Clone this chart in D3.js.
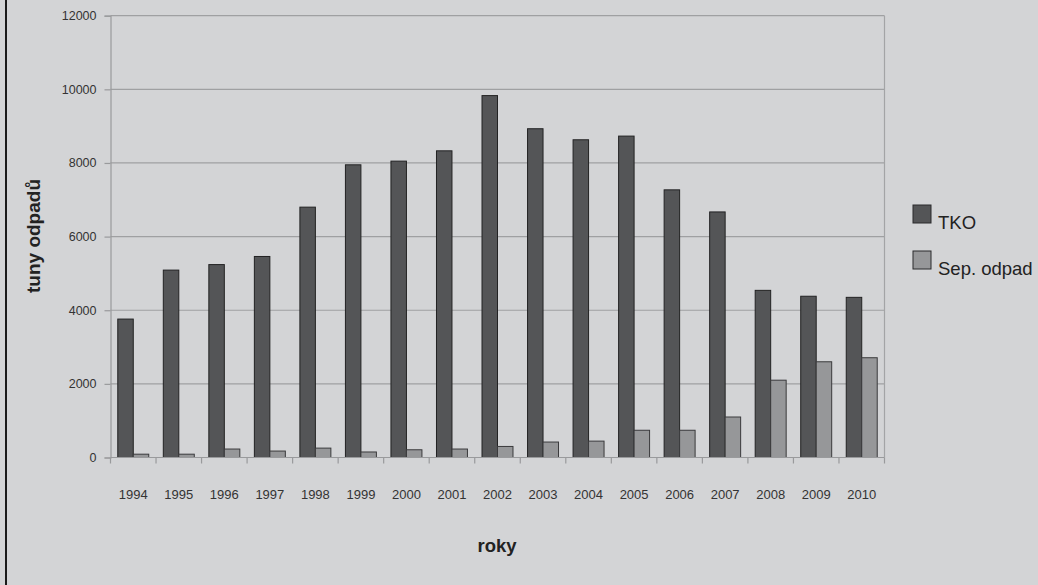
<!DOCTYPE html>
<html>
<head>
<meta charset="utf-8">
<script src="https://cdn.jsdelivr.net/npm/d3@7"></script>
<style>
  html, body { margin: 0; padding: 0; background: #d3d4d6; }
  svg { display: block; font-family: "Liberation Sans", Arial, sans-serif; }
</style>
</head>
<body>
<div class="chart"></div>
<script>
// data
var years = ["1994", "1995", "1996", "1997", "1998", "1999", "2000", "2001", "2002",
             "2003", "2004", "2005", "2006", "2007", "2008", "2009", "2010"];
var seriesNames = ["TKO", "Sep. odpad"];
var tko = [3760, 5090, 5240, 5460, 6800, 7950, 8050, 8330, 9830,
           8930, 8630, 8730, 7270, 6670, 4540, 4380, 4350];
var sepOdpad = [90, 90, 230, 175, 255, 150, 210, 230, 300,
                420, 445, 740, 740, 1100, 2100, 2600, 2710];
var yTicks = [0, 2000, 4000, 6000, 8000, 10000, 12000];

var width = 1038, height = 585;
var plot = {left: 110.5, right: 884.5, top: 15.7, bottom: 457.5};
var colors = {"TKO": "#545557", "Sep. odpad": "#969799"};
var strokes = {"TKO": "#222223", "Sep. odpad": "#3a3a3c"};

var svg = d3.select(".chart").append("svg").attr("width", width).attr("height", height);

svg.append("rect").attr("x", 0).attr("y", 0).attr("width", width).attr("height", height).attr("fill", "#d3d4d6");
// left edge frame line
svg.append("line").attr("x1", 6).attr("y1", 0).attr("x2", 6).attr("y2", height)
   .attr("stroke", "#1a1a1a").attr("stroke-width", 2);

var x0 = d3.scaleBand().domain(years).range([plot.left, plot.right]).padding(0);
var x1 = d3.scaleBand().domain(seriesNames).range([0, x0.bandwidth()]).paddingInner(0).paddingOuter(0.47);
var y = d3.scaleLinear().domain([0, 12000]).range([plot.bottom, plot.top]);

// gridlines
svg.append("g").selectAll("line").data(yTicks.slice(1)).join("line")
   .attr("x1", plot.left).attr("x2", plot.right)
   .attr("y1", function (d) { return y(d); }).attr("y2", function (d) { return y(d); })
   .attr("stroke", "#9fa0a2").attr("stroke-width", 1.2);

// right frame edge
svg.append("line").attr("x1", plot.right).attr("x2", plot.right).attr("y1", plot.top).attr("y2", plot.bottom)
   .attr("stroke", "#a3a4a6").attr("stroke-width", 1.2);

// bars
var rows = years.map(function (yr, i) { return {year: yr, values: [tko[i], sepOdpad[i]]}; });
var groups = svg.append("g").selectAll("g").data(rows).join("g")
   .attr("transform", function (d) { return "translate(" + x0(d.year) + ",0)"; });
groups.selectAll("rect").data(function (d) {
        return seriesNames.map(function (s, k) { return {name: s, value: d.values[k]}; });
    }).join("rect")
   .attr("x", function (d) { return x1(d.name); })
   .attr("y", function (d) { return y(d.value); })
   .attr("width", x1.bandwidth())
   .attr("height", function (d) { return y(0) - y(d.value); })
   .attr("fill", function (d) { return colors[d.name]; })
   .attr("stroke", function (d) { return strokes[d.name]; })
   .attr("stroke-width", 1);

// y axis
var yAxis = d3.axisLeft(y).tickValues(yTicks).tickSize(6).tickPadding(8).tickFormat(d3.format("d"));
var gy = svg.append("g").attr("transform", "translate(" + plot.left + ",0)").call(yAxis);
gy.select(".domain").attr("stroke", "#999a9c").attr("stroke-width", 1.2);
gy.selectAll(".tick line").attr("stroke", "#999a9c").attr("stroke-width", 1.2);
gy.selectAll("text").attr("font-size", "12.5px").attr("fill", "#333").attr("font-family", "Liberation Sans, Arial, sans-serif");

// x axis: ticks at band edges
var gx = svg.append("g").attr("transform", "translate(0," + plot.bottom + ")");
gx.append("line").attr("x1", plot.left).attr("x2", plot.right).attr("y1", 0).attr("y2", 0)
   .attr("stroke", "#999a9c").attr("stroke-width", 1.2);
var edges = years.map(function (yr) { return x0(yr); }).concat([plot.right]);
gx.selectAll("line.tk").data(edges).join("line").attr("class", "tk")
   .attr("x1", function (d) { return d; }).attr("x2", function (d) { return d; })
   .attr("y1", 0).attr("y2", 6).attr("stroke", "#999a9c").attr("stroke-width", 1.2);
gx.selectAll("text").data(years).join("text")
   .attr("x", function (d) { return x0(d) + x0.bandwidth() / 2; })
   .attr("y", 41).attr("text-anchor", "middle")
   .attr("font-size", "13px").attr("fill", "#333").text(function (d) { return d; });

// axis titles
svg.append("text").attr("transform", "translate(40,236) rotate(-90)").attr("text-anchor", "middle")
   .attr("font-size", "19px").attr("font-weight", "bold").attr("fill", "#222").text("tuny odpadů");
svg.append("text").attr("x", 497).attr("y", 552).attr("text-anchor", "middle")
   .attr("font-size", "18.5px").attr("font-weight", "bold").attr("fill", "#222").text("roky");

// legend
var legend = svg.append("g").selectAll("g").data(seriesNames).join("g")
   .attr("transform", function (d, i) { return "translate(913," + (205 + i * 46) + ")"; });
legend.append("rect").attr("width", 18).attr("height", 18)
   .attr("fill", function (d) { return colors[d]; }).attr("stroke", "#2a2a2c").attr("stroke-width", 1);
legend.append("text").attr("x", 25).attr("y", 24).attr("font-size", "18.5px").attr("fill", "#222")
   .text(function (d) { return d; });
</script>
</body>
</html>
